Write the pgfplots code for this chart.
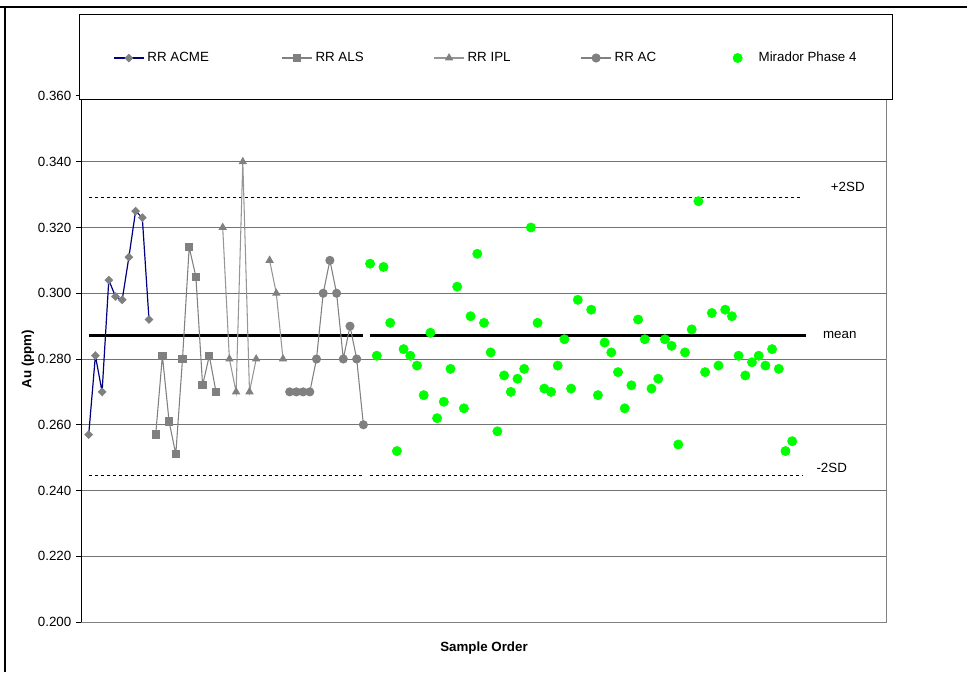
\documentclass[border=0pt]{standalone}
\usepackage{fontspec}
\setmainfont{Liberation Sans}
\usepackage{pgfplots}
\pgfplotsset{compat=1.18}
\definecolor{acmeline}{RGB}{0,0,128}
\definecolor{mgray}{RGB}{128,128,128}
\definecolor{lgray}{RGB}{150,150,150}
\definecolor{mgreen}{RGB}{0,255,0}
\definecolor{gridc}{RGB}{115,115,115}
\begin{document}
\begin{tikzpicture}
\begin{axis}[
  name=ax,
  scale only axis,
  width=603pt, height=394.5pt,
  xmin=0, xmax=120, ymin=0.2, ymax=0.36,
  xtick=\empty,
  ytick={0.2,0.22,0.24,0.26,0.28,0.30,0.32,0.34,0.36},
  ytick pos=left,
  tick align=outside,
  major tick length=4.5pt,
  ymajorgrids,
  grid style={gridc, line width=0.75pt},
  axis line style={mgray, line width=0.75pt},
  y tick style={black, line width=0.75pt},
  font=\fontsize{10}{12}\selectfont,
  /pgf/number format/assume math mode=true,
  yticklabel style={/pgf/number format/.cd, fixed, fixed zerofill, precision=3},
  ylabel={\textbf{Au (ppm)}},
  ylabel style={at={(rel axis cs:-0.0672,0.5)}, anchor=center},
  xlabel={\textbf{Sample Order}},
  xlabel style={at={(rel axis cs:0.5,-0.0494)}, anchor=center},
  clip=false,
  unbounded coords=jump,
  legend columns=5,
  legend cell align=left,
  legend image code/.code={\path[draw=none, fill=none] (0pt,-1pt) rectangle (22.5pt,1pt);
    \draw[mark repeat=2,mark phase=2] plot coordinates {(0pt,0pt) (11.25pt,0pt) (22.5pt,0pt)};},
  legend style={draw=none, fill=none, inner xsep=0pt, inner ysep=0pt,
    at={(rel axis cs:0.03856,1.0722)}, anchor=west,
    nodes={inner sep=0pt},
    /tikz/every odd column/.append style={column sep=2.25pt},
    font=\fontsize{10}{12}\selectfont},
]
% reference lines
\addplot[black, line width=2.25pt, forget plot] coordinates {(1,0.287) (42,0.287)};
\addplot[black, line width=2.25pt, forget plot] coordinates {(43,0.287) (108,0.287)};
\addplot[black, line width=0.75pt, dash pattern=on 2.25pt off 2.25pt, forget plot] coordinates {(1,0.329) (107.5,0.329)};
\addplot[black, line width=0.75pt, dash pattern=on 2.25pt off 2.25pt, forget plot] coordinates {(1,0.2445) (42,0.2445)};
\addplot[black, line width=0.75pt, dash pattern=on 2.25pt off 2.25pt, forget plot] coordinates {(43,0.2445) (107.5,0.2445)};

\addplot[acmeline, line width=0.9pt, mark=square*, mark size=1.875pt,
  mark options={rotate=45, fill=mgray, draw=mgray, solid}] coordinates {
(1,0.257) (2,0.281) (3,0.270) (4,0.304) (5,0.299) (6,0.298) (7,0.311) (8,0.325) (9,0.323) (10,0.292)
};
\addlegendentry{\makebox[100.5pt][l]{RR ACME}}

\addplot[mgray, line width=0.8pt, mark=square*, mark size=2.7pt,
  mark options={fill=mgray, draw=mgray, solid}] coordinates {
(11,0.257) (12,0.281) (13,0.261) (14,0.251) (15,0.280) (16,0.314) (17,0.305) (18,0.272) (19,0.281) (20,0.270)
};
\addlegendentry{\makebox[88.5pt][l]{RR ALS}}

\addplot[lgray, line width=0.8pt, mark=triangle*, mark size=2.9pt,
  mark options={fill=mgray, draw=mgray, solid}] coordinates {
(21,0.320) (22,0.280) (23,0.270) (24,0.340) (25,0.270) (26,0.280) (27,nan) (28,0.310) (29,0.300) (30,0.280)
};
\addlegendentry{\makebox[84.75pt][l]{RR IPL}}

\addplot[mgray, line width=0.8pt, mark=*, mark size=3pt,
  mark options={fill=mgray, draw=mgray, solid}] coordinates {
(31,0.270) (32,0.270) (33,0.270) (34,0.270) (35,0.280) (36,0.300) (37,0.310) (38,0.300) (39,0.280) (40,0.290) (41,0.280) (42,0.260)
};
\addlegendentry{\makebox[81pt][l]{RR AC}}

\addplot[only marks, mark=*, mark size=3.5pt, mark options={fill=mgreen, draw=mgreen}] coordinates {
(43,0.309) (44,0.281) (45,0.308) (46,0.291) (47,0.252) (48,0.283) (49,0.281) (50,0.278)
(51,0.269) (52,0.288) (53,0.262) (54,0.267) (55,0.277) (56,0.302) (57,0.265) (58,0.293)
(59,0.312) (60,0.291) (61,0.282) (62,0.258) (63,0.275) (64,0.270) (65,0.274) (66,0.277)
(67,0.320) (68,0.291) (69,0.271) (70,0.270) (71,0.278) (72,0.286) (73,0.271) (74,0.298)
(76,0.295) (77,0.269) (78,0.285) (79,0.282) (80,0.276) (81,0.265) (82,0.272) (83,0.292)
(84,0.286) (85,0.271) (86,0.274) (87,0.286) (88,0.284) (89,0.254) (90,0.282) (91,0.289)
(92,0.328) (93,0.276) (94,0.294) (95,0.278) (96,0.295) (97,0.293) (98,0.281) (99,0.275)
(100,0.279) (101,0.281) (102,0.278) (103,0.283) (104,0.277) (105,0.252) (106,0.255)
};
\addlegendentry{\hspace{2.25pt}Mirador Phase 4}

\node[anchor=center] at (axis cs:114.3,0.3323) {+2SD};
\node[anchor=center] at (axis cs:113.1,0.2873) {mean};
\node[anchor=center] at (axis cs:111.9,0.2470) {-2SD};

\draw[black, line width=0.75pt] (rel axis cs:0,0) -- (rel axis cs:0,1);
\draw[black, line width=0.75pt, fill=white] (rel axis cs:-0.00373,0.9943) rectangle (rel axis cs:1.00746,1.15399);
\end{axis}
\draw[black, line width=1.5pt] ([shift={(-61.5pt,461.25pt)}]ax.south west) -- ([shift={(663.75pt,461.25pt)}]ax.south west);
\draw[black, line width=1.5pt] ([shift={(-57.75pt,461.25pt)}]ax.south west) -- ([shift={(-57.75pt,-37.5pt)}]ax.south west);
\pgfresetboundingbox
\path[use as bounding box] ([shift={(-61.5pt,-37.5pt)}]ax.south west) rectangle ([shift={(663.75pt,466.5pt)}]ax.south west);
\end{tikzpicture}
\end{document}
